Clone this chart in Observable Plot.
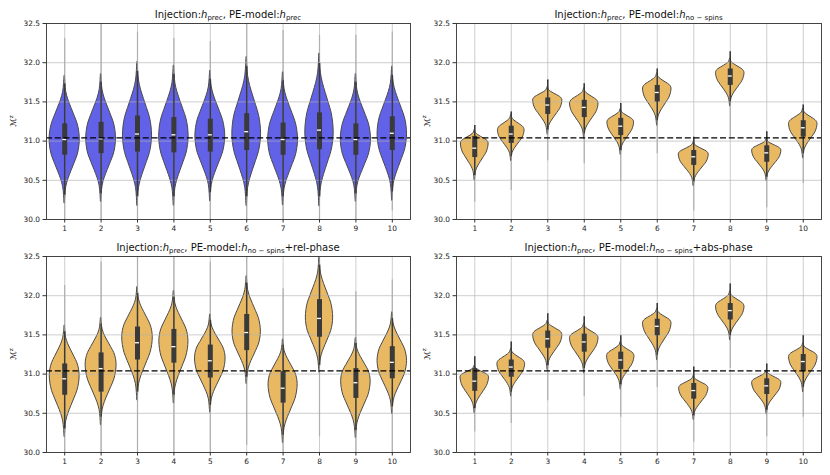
<!DOCTYPE html>
<html><head><meta charset="utf-8">
<script src="https://cdn.jsdelivr.net/npm/d3@7"></script>
<script src="https://cdn.jsdelivr.net/npm/@observablehq/plot@0.6"></script>
<style>
body{margin:0;background:#fff;font-family:"DejaVu Sans",sans-serif;}
#fig{position:relative;width:830px;height:475px;overflow:hidden;}
#fig svg{position:absolute;overflow:visible;}
</style></head><body><div id="fig"></div>
<script>
// ---- data ----
const categories = [1,2,3,4,5,6,7,8,9,10];
const yTicks = [30.0, 30.5, 31.0, 31.5, 32.0, 32.5];
const injected = 31.04;
// shared violin outline profile: half-width fraction vs. distance from peak (in spread units)
const profileZ = [0, 0.5, 1, 1.5, 2, 2.5, 3, 3.5, 4];
const profileW = [1, 0.96, 0.85, 0.65, 0.44, 0.24, 0.1, 0.045, 0.015];
// columns: median, q1, q3, peak, bodyTop, bodyBottom, tailTop, tailBottom, width
const panelTL = [
  [31.02, 30.82, 31.22, 31.02, 31.73, 30.31, 32.31, 29.9, 0.83],
  [31.03, 30.84, 31.24, 31.03, 31.75, 30.33, 32.60, 29.9, 0.82],
  [31.09, 30.86, 31.32, 31.07, 31.89, 30.29, 32.39, 29.9, 0.80],
  [31.08, 30.85, 31.30, 31.06, 31.85, 30.29, 32.31, 29.9, 0.81],
  [31.08, 30.86, 31.28, 31.06, 31.79, 30.34, 32.27, 29.9, 0.82],
  [31.12, 30.88, 31.35, 31.09, 31.95, 30.29, 32.60, 29.9, 0.79],
  [31.02, 30.82, 31.23, 31.02, 31.77, 30.29, 32.41, 29.9, 0.82],
  [31.14, 30.89, 31.36, 31.11, 31.99, 30.29, 32.35, 29.9, 0.78],
  [31.02, 30.82, 31.22, 31.02, 31.75, 30.33, 32.35, 29.9, 0.83],
  [31.10, 30.88, 31.31, 31.09, 31.84, 30.35, 32.39, 30.11, 0.81]
];
const panelTR = [
  [30.91, 30.79, 31.06, 30.97, 31.12, 30.56, 31.20, 30.22, 0.76],
  [31.09, 30.97, 31.19, 31.14, 31.31, 30.80, 31.37, 30.37, 0.73],
  [31.46, 31.34, 31.55, 31.52, 31.67, 31.14, 31.78, 30.75, 0.80],
  [31.43, 31.30, 31.52, 31.48, 31.65, 31.09, 31.73, 30.71, 0.78],
  [31.19, 31.07, 31.29, 31.24, 31.39, 30.88, 31.48, 30.48, 0.73],
  [31.62, 31.50, 31.71, 31.67, 31.84, 31.26, 31.92, 30.84, 0.78],
  [30.80, 30.69, 30.88, 30.83, 30.97, 30.48, 31.05, 30.11, 0.82],
  [31.83, 31.71, 31.92, 31.87, 32.03, 31.50, 32.14, 31.05, 0.78],
  [30.85, 30.73, 30.94, 30.88, 31.01, 30.54, 31.12, 30.15, 0.80],
  [31.17, 31.05, 31.26, 31.22, 31.39, 30.84, 31.46, 30.46, 0.78]
];
const panelBL = [
  [30.94, 30.73, 31.13, 30.98, 31.54, 30.30, 32.13, 29.9, 0.82],
  [31.07, 30.77, 31.27, 31.12, 31.64, 30.45, 32.43, 29.9, 0.85],
  [31.40, 31.18, 31.60, 31.47, 32.03, 30.77, 32.60, 29.9, 0.84],
  [31.35, 31.14, 31.57, 31.42, 31.98, 30.73, 32.60, 29.9, 0.80],
  [31.17, 30.95, 31.37, 31.20, 31.69, 30.60, 32.43, 29.9, 0.84],
  [31.53, 31.30, 31.76, 31.54, 32.16, 30.96, 32.60, 30.09, 0.78],
  [30.82, 30.63, 31.03, 30.87, 31.37, 30.22, 32.09, 29.9, 0.80],
  [31.71, 31.47, 31.95, 31.72, 32.39, 31.11, 32.60, 30.20, 0.75],
  [30.89, 30.69, 31.07, 30.91, 31.39, 30.28, 32.05, 29.9, 0.81],
  [31.15, 30.94, 31.35, 31.17, 31.71, 30.58, 32.20, 29.9, 0.81]
];
const panelBR = [
  [30.91, 30.78, 31.07, 30.96, 31.09, 30.56, 31.22, 30.26, 0.78],
  [31.09, 30.96, 31.18, 31.13, 31.30, 30.77, 31.41, 30.37, 0.76],
  [31.45, 31.33, 31.55, 31.50, 31.66, 31.11, 31.77, 30.66, 0.80],
  [31.41, 31.28, 31.51, 31.46, 31.62, 31.07, 31.73, 30.71, 0.78],
  [31.18, 31.06, 31.28, 31.23, 31.39, 30.86, 31.49, 30.45, 0.75],
  [31.61, 31.49, 31.70, 31.65, 31.81, 31.24, 31.90, 30.83, 0.78],
  [30.79, 30.68, 30.88, 30.82, 30.96, 30.47, 31.09, 30.13, 0.80],
  [31.81, 31.69, 31.90, 31.86, 32.03, 31.49, 32.15, 31.07, 0.78],
  [30.85, 30.74, 30.94, 30.89, 31.03, 30.54, 31.13, 30.20, 0.80],
  [31.16, 31.03, 31.25, 31.22, 31.37, 30.83, 31.49, 30.45, 0.78]
];
const titleTL = [["Injection:","n"],["h","i"],["prec","s"],[", PE-model:","n"],["h","i"],["prec","s"]];
const titleTR = [["Injection:","n"],["h","i"],["prec","s"],[", PE-model:","n"],["h","i"],["no \u2212 spins","s"]];
const titleBL = [["Injection:","n"],["h","i"],["prec","s"],[", PE-model:","n"],["h","i"],["no \u2212 spins","s"],["+rel-phase","n"]];
const titleBR = [["Injection:","n"],["h","i"],["prec","s"],[", PE-model:","n"],["h","i"],["no \u2212 spins","s"],["+abs-phase","n"]];
const blue = "#6262e8", orange = "#e8b962";

// ---- helpers ----
function toStats(panel, spikeToTail) {
  return panel.map((r, i) => {
    const [med, q1, q3, peak, hi, lo, tailHi, tailLo, width] = r;
    return {cat: categories[i], med, q1, q3, peak, hi, lo, tailHi, tailLo, width,
      whHi: spikeToTail ? tailHi : hi, whLo: lo};
  });
}
function violinPoints(stats) {
  const pts = [];
  for (const s of stats) {
    const su = (s.hi - s.peak) / 3.5, sl = (s.peak - s.lo) / 3.5, hw = s.width / 2;
    for (let k = profileZ.length - 1; k >= 1; k--) pts.push({cat: s.cat, y: s.peak - sl * profileZ[k], hw: hw * profileW[k]});
    for (let k = 0; k < profileZ.length; k++) pts.push({cat: s.cat, y: s.peak + su * profileZ[k], hw: hw * profileW[k]});
  }
  return pts;
}
function addTitle(svg, cx, y, parts) {
  const t = d3.select(svg).append("text").attr("x", cx).attr("y", y)
    .attr("text-anchor", "middle").attr("font-size", 10).attr("fill", "#111")
    .attr("font-family", "DejaVu Sans");
  let shift = 0;
  for (const [s, k] of parts) {
    const target = k === "s" ? 2.4 : 0;
    const ts = t.append("tspan").text(s).attr("dy", target - shift);
    shift = target;
    if (k === "i") ts.attr("font-style", "italic");
    if (k === "s") ts.attr("font-size", 7);
  }
}
function addYLabel(svg, x, y) {
  const t = d3.select(svg).append("text").attr("transform", `translate(${x},${y}) rotate(-90)`)
    .attr("text-anchor", "middle").attr("font-size", 8).attr("fill", "#111").attr("font-family", "DejaVu Sans");
  t.append("tspan").text("\u2133");
  t.append("tspan").text("z").attr("font-size", 5.5).attr("dy", -3.5);
}

function panel(data, fill, title, opt) {
  const stats = toStats(data, opt.spike);
  const pts = violinPoints(stats);
  const svg = Plot.plot({
    width: 415, height: opt.height,
    marginLeft: opt.ml, marginRight: opt.mr, marginTop: opt.mt, marginBottom: opt.mb,
    x: {domain: [0.5, 10.5], axis: null, label: null},
    y: {domain: [30, 32.5], axis: null, label: null},
    style: {fontFamily: "DejaVu Sans", fontSize: "7.4px", color: "#222", background: "transparent", overflow: "visible"},
    marks: [
      Plot.ruleX(stats, {x: "cat", y1: "tailLo", y2: "tailHi", stroke: "#8c8c8c", strokeOpacity: 0.7, strokeWidth: 1.2, clip: true}),
      Plot.areaX(pts, {y: "y", x1: d => d.cat - d.hw, x2: d => d.cat + d.hw, z: "cat", fill, stroke: "#4a4a4a", strokeWidth: 1.0, curve: "catmull-rom", clip: true}),
      Plot.gridY(yTicks, {stroke: "#b0b0b0", strokeOpacity: 0.8, strokeWidth: 0.8}),
      Plot.gridX(categories, {stroke: "#b0b0b0", strokeOpacity: 0.8, strokeWidth: 0.8}),
      Plot.ruleX(stats, {x: "cat", y1: "whLo", y2: "whHi", stroke: "#3a3a3a", strokeWidth: 1.5, clip: true}),
      Plot.ruleX(stats, {x: "cat", y1: "q1", y2: "q3", stroke: "#3a3a3a", strokeWidth: 5}),
      Plot.ruleY(stats, {y: "med", x1: d => d.cat - 0.055, x2: d => d.cat + 0.055, stroke: "white", strokeWidth: 1.3}),
      Plot.ruleY([injected], {stroke: "black", strokeWidth: 1.3, strokeDasharray: "6,2.8"}),
      Plot.frame({stroke: "#333", strokeWidth: 0.9}),
      Plot.axisY(yTicks, {tickFormat: d3.format(".1f"), tickSize: 3.5, tickPadding: 3, fontSize: 7.4, stroke: "#333", label: null}),
      Plot.axisX(categories, {tickSize: 3.5, tickPadding: 3, fontSize: 7.4, stroke: "#333", label: null})
    ]
  });
  svg.style.left = opt.left + "px";
  svg.style.top = opt.top + "px";
  const cx = opt.ml + (415 - opt.ml - opt.mr) / 2;
  const cy = opt.mt + (opt.height - opt.mt - opt.mb) / 2;
  addTitle(svg, cx, opt.mt - 5, title);
  addYLabel(svg, opt.ylx, cy);
  document.getElementById("fig").appendChild(svg);
}

panel(panelTL, blue, titleTL, {left: 0, top: 0, height: 235, ml: 46, mr: 5, mt: 23, mb: 16, ylx: 16, spike: false});
panel(panelTR, orange, titleTR, {left: 415, top: 0, height: 235, ml: 41, mr: 9, mt: 23, mb: 16, ylx: 14.5, spike: true});
panel(panelBL, orange, titleBL, {left: 0, top: 235, height: 240, ml: 46, mr: 5, mt: 21, mb: 23, ylx: 16, spike: false});
panel(panelBR, orange, titleBR, {left: 415, top: 235, height: 240, ml: 41, mr: 9, mt: 21, mb: 23, ylx: 14.5, spike: true});
</script></body></html>
